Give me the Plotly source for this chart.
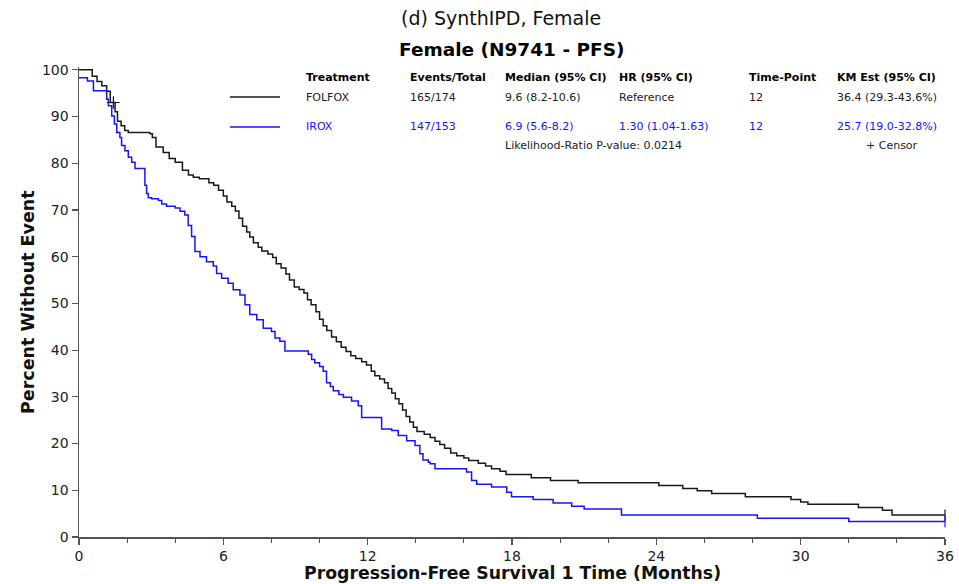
import plotly.graph_objects as go

# ---------------- data ----------------
folfox_t = [0, 0.55, 0.75, 0.95, 1.15, 1.3, 1.5, 1.6, 1.75, 1.9, 2.05, 2.95, 3.05, 3.2, 3.5, 3.75, 4.0,
            4.3, 4.55, 4.75, 5.0, 5.4, 5.6, 5.8, 6.0, 6.15, 6.35, 6.5, 6.65, 6.8, 6.97, 7.1, 7.25, 7.45,
            7.6, 7.85, 8.05, 8.2, 8.4, 8.6, 8.75, 8.95, 9.15, 9.35, 9.5, 9.65, 9.85, 10.0, 10.15, 10.3,
            10.5, 10.7, 10.9, 11.1, 11.3, 11.5, 11.75, 11.95, 12.15, 12.3, 12.5, 12.7, 12.85, 13.0, 13.15,
            13.3, 13.45, 13.6, 13.75, 13.9, 14.05, 14.35, 14.6, 14.8, 15.0, 15.2, 15.45, 15.7, 16.0, 16.2,
            16.6, 16.9, 17.15, 17.5, 17.75, 18.8, 19.6, 20.75, 24.1, 25.1, 25.7, 26.3, 27.7, 29.6, 30.0,
            30.3, 32.4, 33.4, 33.8, 36.0]
folfox_s = [100, 98.6, 97.5, 96.6, 95.4, 93.0, 91.0, 89.0, 88.0, 87.0, 86.6, 86.3, 85.5, 83.5, 82.3, 81.0, 80.2,
            78.5, 77.5, 77.0, 76.7, 75.8, 75.3, 74.2, 73.0, 71.7, 70.8, 69.8, 68.2, 66.5, 65.3, 64.2, 63.0, 62.0,
            61.2, 60.6, 59.8, 58.5, 57.6, 56.3, 55.0, 53.5, 53.0, 52.2, 50.8, 49.7, 48.2, 46.6, 45.2, 44.2,
            42.8, 41.8, 40.6, 39.7, 38.8, 38.2, 37.5, 36.8, 35.5, 34.5, 33.8, 33.0, 31.8, 30.8, 29.6,
            28.5, 27.2, 25.8, 24.6, 23.5, 22.6, 22.0, 21.3, 20.5, 19.8, 19.0, 18.0, 17.4, 16.9, 16.4,
            15.8, 15.2, 14.6, 14.1, 13.4, 12.7, 12.1, 11.6, 11.0, 10.4, 9.9, 9.3, 8.6, 8.0, 7.5,
            7.0, 6.3, 5.7, 4.7, 4.7]
folfox_censor_t = [1.43, 36.0]
folfox_censor_s = [93.0, 4.7]

irox_t = [0, 0.35, 0.6, 1.15, 1.22, 1.36, 1.47, 1.57, 1.7, 1.77, 1.91, 2.05, 2.19, 2.33, 2.74, 2.81, 2.88,
          3.02, 3.3, 3.44, 3.64, 4.0, 4.2, 4.4, 4.54, 4.68, 4.82, 5.03, 5.3, 5.58, 5.72, 5.93, 6.2, 6.41,
          6.69, 6.9, 7.1, 7.39, 7.66, 8.0, 8.15, 8.35, 8.56, 9.53, 9.67, 9.8, 10.0, 10.15, 10.29, 10.45,
          10.57, 10.8, 10.99, 11.33, 11.61, 11.75, 12.58, 13.0, 13.27, 13.62, 13.97, 14.17, 14.3, 14.52,
          14.6, 14.8, 16.11, 16.32, 16.53, 17.15, 17.78, 17.98, 18.88, 19.71, 20.48, 21.0, 22.55, 28.2,
          32.0, 36.0]
irox_s = [98.3, 97.6, 95.5, 93.7, 92.3, 90.1, 88.4, 86.6, 85.5, 83.8, 82.7, 81.3, 80.2, 78.9, 75.3, 73.5, 72.6,
          72.4, 72.0, 71.3, 70.8, 70.4, 69.7, 68.9, 66.7, 64.3, 61.1, 60.0, 58.9, 58.0, 56.4, 55.4, 54.3, 52.9,
          51.8, 49.7, 47.6, 46.5, 44.7, 44.0, 42.6, 41.9, 39.8, 39.1, 38.0, 37.3, 36.5, 35.5, 33.0, 32.2,
          31.3, 30.5, 29.9, 29.1, 28.1, 25.6, 23.1, 22.8, 21.7, 20.6, 19.6, 17.8, 16.5, 16.0,
          15.7, 14.6, 13.9, 12.1, 11.3, 10.7, 9.6, 8.6, 8.0, 7.3, 6.6, 6.0, 4.7, 4.0,
          3.3, 3.3]
irox_censor_t = [36.0]
irox_censor_s = [3.3]

x_ticks = [0, 6, 12, 18, 24, 30, 36]
y_ticks = [0, 10, 20, 30, 40, 50, 60, 70, 80, 90, 100]

table_headers = ["Treatment", "Events/Total", "Median (95% CI)", "HR (95% CI)", "Time-Point", "KM Est (95% CI)"]
treatments = ["FOLFOX", "IROX"]
events_total = ["165/174", "147/153"]
medians = ["9.6 (8.2-10.6)", "6.9 (5.6-8.2)"]
hrs = ["Reference", "1.30 (1.04-1.63)"]
time_points = ["12", "12"]
km_ests = ["36.4 (29.3-43.6%)", "25.7 (19.0-32.8%)"]
p_value_text = "Likelihood-Ratio P-value: 0.0214"

# ---------------- layout helpers ----------------
W, H = 959, 584
PL, PR, PT, PB = 79, 945, 67, 537
colors = ["#1a1a1a", "#1414ff"]
FONT = "DejaVu Sans"


def px(xp):
    return (xp - PL) / (PR - PL)


def py(yp):
    return (PB - yp) / (PB - PT)


fig = go.Figure()
fig.add_trace(go.Scatter(x=folfox_t, y=folfox_s, mode="lines", line=dict(shape="hv", color=colors[0], width=1.5),
                         showlegend=False, hoverinfo="skip"))
fig.add_trace(go.Scatter(x=irox_t, y=irox_s, mode="lines", line=dict(shape="hv", color=colors[1], width=1.5),
                         showlegend=False, hoverinfo="skip"))
fig.add_trace(go.Scatter(x=folfox_censor_t[:1], y=folfox_censor_s[:1], mode="markers",
                         marker=dict(symbol="cross-thin", size=9, line=dict(color=colors[0], width=1.2)),
                         showlegend=False, cliponaxis=False, hoverinfo="skip"))
fig.add_trace(go.Scatter(x=folfox_censor_t[1:], y=folfox_censor_s[1:], mode="markers",
                         marker=dict(symbol="line-ns", size=8, line=dict(color=colors[0], width=1.2)),
                         showlegend=False, cliponaxis=False, hoverinfo="skip"))
fig.add_trace(go.Scatter(x=irox_censor_t, y=irox_censor_s, mode="markers",
                         marker=dict(symbol="line-ns", size=8, line=dict(color=colors[1], width=1.2)),
                         showlegend=False, cliponaxis=False, hoverinfo="skip"))

annotations = []
# titles
annotations.append(dict(text="(d) SynthIPD, Female", x=px(501), y=py(18), xref="paper", yref="paper",
                        showarrow=False, font=dict(size=19, color="#111", family=FONT), xanchor="center", yanchor="middle"))
annotations.append(dict(text="<b>Female (N9741 - PFS)</b>", x=px(512), y=py(50), xref="paper", yref="paper",
                        showarrow=False, font=dict(size=18.5, color="#000", family=FONT), xanchor="center", yanchor="middle"))
annotations.append(dict(text="<b>Progression-Free Survival 1 Time (Months)</b>", x=px(512), y=py(573),
                        xref="paper", yref="paper", showarrow=False, font=dict(size=17.3, color="#111", family=FONT),
                        xanchor="center", yanchor="middle"))
annotations.append(dict(text="<b>Percent Without Event</b>", x=px(28), y=py(302), textangle=-90,
                        xref="paper", yref="paper", showarrow=False, font=dict(size=17.5, color="#111", family=FONT),
                        xanchor="center", yanchor="middle"))

col_x = [304, 408, 503, 617, 747, 835]
for cx, h in zip(col_x, table_headers):
    annotations.append(dict(text="<b>" + h + "</b>", x=px(cx), y=py(78), xref="paper", yref="paper",
                            showarrow=False, font=dict(size=11, color="#000", family=FONT),
                            xanchor="left", yanchor="middle"))
row_y = [97, 127]
for i in range(2):
    vals = [treatments[i], events_total[i], medians[i], hrs[i], time_points[i], km_ests[i]]
    col = "#222" if i == 0 else colors[1]
    for cx, v in zip(col_x, vals):
        annotations.append(dict(text=v, x=px(cx), y=py(row_y[i]), xref="paper", yref="paper",
                                showarrow=False, font=dict(size=11, color=col, family=FONT),
                                xanchor="left", yanchor="middle"))
annotations.append(dict(text=p_value_text, x=px(503), y=py(145), xref="paper", yref="paper",
                        showarrow=False, font=dict(size=11, color="#222", family=FONT),
                        xanchor="left", yanchor="middle"))
annotations.append(dict(text="+ Censor", x=px(864), y=py(145), xref="paper", yref="paper",
                        showarrow=False, font=dict(size=11, color="#222", family=FONT),
                        xanchor="left", yanchor="middle"))

shapes = []
for i in range(2):
    shapes.append(dict(type="line", xref="paper", yref="paper", x0=px(230), x1=px(280),
                       y0=py(row_y[i]), y1=py(row_y[i]), line=dict(color=colors[i], width=1.5)))

fig.update_layout(
    width=W, height=H,
    margin=dict(l=PL, r=W - PR, t=PT, b=H - PB, autoexpand=False),
    plot_bgcolor="white", paper_bgcolor="white",
    font=dict(family=FONT, color="#222"),
    annotations=annotations, shapes=shapes,
    xaxis=dict(range=[0, 36], tickvals=x_ticks, ticks="outside", ticklen=6, tickwidth=1.2, tickcolor="#555",
               showline=True, linecolor="#555", linewidth=1.5, showgrid=False, zeroline=False, automargin=False,
               tickfont=dict(size=14, color="#222"),
               minor=dict(dtick=2, ticks="outside", ticklen=4, tickcolor="#555", showgrid=False)),
    yaxis=dict(range=[0, 100.6], tickvals=y_ticks, ticks="outside", ticklen=6, tickwidth=1.2, tickcolor="#555",
               showline=True, linecolor="#555", linewidth=1.5, showgrid=False, zeroline=False, automargin=False,
               tickfont=dict(size=14, color="#222")),
)

fig.write_html("out.html", config={"displayModeBar": False, "staticPlot": True},
               post_script="document.body.style.margin='0';document.body.style.overflow='hidden';")
